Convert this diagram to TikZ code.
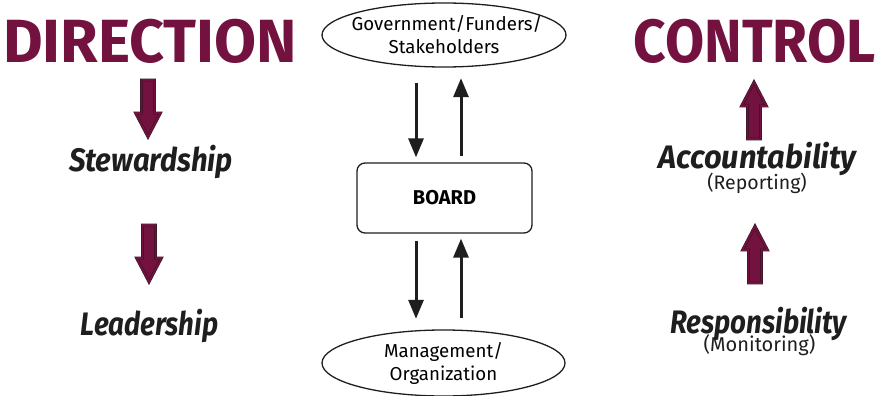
\documentclass[tikz,border=0pt]{standalone}
\usepackage{fontspec}
\setmainfont{Fira Sans}
\newfontfamily\titlefont[FakeStretch=0.93]{Fira Sans}
\usetikzlibrary{arrows.meta}
\definecolor{wine}{HTML}{74123F}
\definecolor{winedark}{HTML}{2B1520}
\definecolor{ink}{HTML}{1E1E1E}
\begin{document}
\begin{tikzpicture}[x=1pt,y=-1pt,
  title/.style={font=\titlefont\fontsize{61}{61}\selectfont\bfseries, text=wine, inner sep=0pt},
  role/.style={font=\fontsize{32.5}{32.5}\selectfont\bfseries\itshape, text=ink, inner sep=0pt, anchor=base},
  note/.style={font=\fontsize{19.5}{19.5}\selectfont, text=ink, inner sep=0pt, anchor=base},
  fatline/.style={draw=winedark, fill=wine, line width=0.5pt, line join=miter,
    double=wine, double distance=1.8pt},
  fatarrow/.pic={
    \path[fatline] (-6.5,0) -- (-6.5,33) -- (-12.5,33) -- (0,57) -- (12.5,33)
      -- (6.5,33) -- (6.5,0) -- cycle;
  },
  party/.style={minimum width=244pt, minimum height=64pt, align=center, inner sep=0pt,
    font=\fontsize{18.7}{23}\selectfont},
  rim/.style={draw=ink, line width=1.3pt},
  flow/.style={draw=ink, line width=3pt, -{Triangle[width=15pt,length=19pt]}}
]
\useasboundingbox (0,0) rectangle (878,396);

% left column: direction
\node[title] (direction) at (150,41.5) {\scalebox{1.074}[1]{DIRECTION}};
\pic (dirA) at (148,80) {fatarrow};
\node[role] (steward) at (151,171) {\scalebox{0.90}[1]{Stewardship}};
\pic (dirB) at (149,225) {fatarrow};
\node[role] (leader) at (149.5,335) {\scalebox{0.85}[1]{Leadership}};

% right column: control
\node[title] (control) at (754.5,41.5) {CONTROL};
\pic[rotate=180] (ctlA) at (754,139) {fatarrow};
\node[role] (account) at (757.5,168) {\scalebox{0.95}[1]{Accountability}};
\node[note] (report) at (757,189) {(Reporting)};
\pic[rotate=180] (ctlB) at (755,283) {fatarrow};
\node[role] (respons) at (758.5,333) {\scalebox{0.853}[1]{Responsibility}};
\node[note] (monitor) at (759.5,351) {\fontsize{20}{20}\selectfont(Monitoring)};

% centre column: the board between funders and management
\node[party] (gov) at (444,35) {\hspace*{6pt}Government/Funders/\\Stakeholders};
\draw[rim] (gov.center) ellipse [x radius=122, y radius=32];
\node[draw=ink, line width=1.3pt, rounded corners=8pt, minimum width=175pt,
  minimum height=70pt, inner sep=0pt,
  font=\fontsize{20}{20}\selectfont\bfseries] (board) at (444.5,198) {BOARD};
\node[party] (mgmt) at (443.5,363) {Management/\\Organization};
\draw[rim] (mgmt.center) ellipse [x radius=121.5, y radius=33];

\coordinate (downx) at (416,0);
\coordinate (upx) at (461,0);
\draw[flow, shorten <=16pt, shorten >=5pt] (gov.south -| downx) -- (board.north -| downx);
\draw[flow, shorten <=6pt, shorten >=11pt] (board.north -| upx) -- (gov.south -| upx);
\draw[flow, shorten <=7pt, shorten >=12pt] (board.south -| downx) -- (mgmt.north -| downx);
\draw[flow, shorten <=13pt, shorten >=5pt] (mgmt.north -| upx) -- (board.south -| upx);
\end{tikzpicture}
\end{document}
